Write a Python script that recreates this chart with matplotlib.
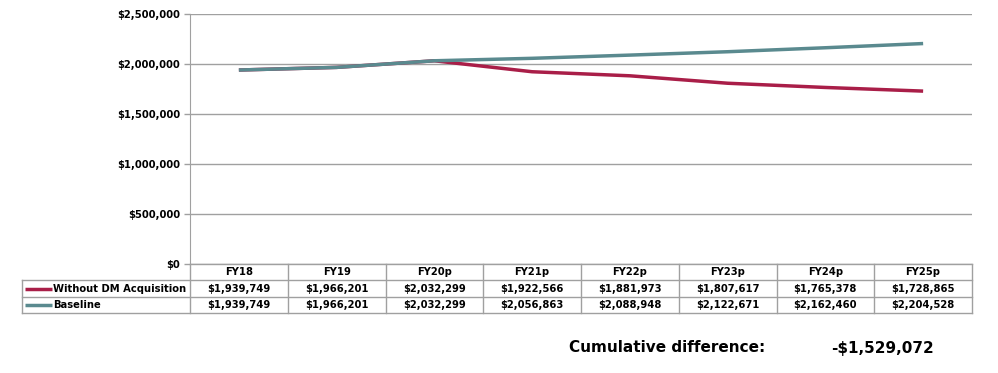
import matplotlib

matplotlib.use("Agg")
import matplotlib.pyplot as plt
from matplotlib.lines import Line2D
from matplotlib.ticker import FuncFormatter
from matplotlib.transforms import blended_transform_factory

years = ["FY18", "FY19", "FY20p", "FY21p", "FY22p", "FY23p", "FY24p", "FY25p"]
without_dm = [1939749, 1966201, 2032299, 1922566, 1881973, 1807617, 1765378, 1728865]
baseline = [1939749, 1966201, 2032299, 2056863, 2088948, 2122671, 2162460, 2204528]
series_names = ["Without DM Acquisition", "Baseline"]
cumulative_label = "Cumulative difference:"
cumulative_value = "-$1,529,072"

RED = "#A91E48"
TEAL = "#5A8A8F"
GRID = "#A0A0A0"
FS = 7.2

W, H = 998, 373
fig = plt.figure(figsize=(W / 100, H / 100), dpi=100)
ax = fig.add_axes([190 / W, (H - 264) / H, 782 / W, 250 / H])

x = list(range(len(years)))
ax.plot(x, without_dm, color=RED, lw=2.5, solid_capstyle="butt", zorder=3)
ax.plot(x, baseline, color=TEAL, lw=2.5, solid_capstyle="butt", zorder=4)

ax.set_xlim(-0.5, len(years) - 0.5)
ax.set_ylim(0, 2500000)
ax.set_yticks(range(0, 2500001, 500000))
ax.yaxis.set_major_formatter(FuncFormatter(lambda v, p: f"${v:,.0f}"))
ax.set_xticks([])
ax.grid(axis="y", color=GRID, lw=1)
ax.set_axisbelow(True)
for side in ("top", "right", "bottom"):
    ax.spines[side].set_visible(False)
ax.spines["left"].set_color(GRID)
ax.tick_params(axis="y", colors=GRID, length=4, width=1, labelcolor="black",
               labelsize=FS, pad=3)
for lab in ax.get_yticklabels():
    lab.set_fontweight("bold")

# data table under the axis
tr = blended_transform_factory(ax.transData, ax.transAxes)
col_w = 782 / len(years)
left = -0.5 - 168 / col_w
right = len(years) - 0.5
rows_y = [0, -16 / 250, -33 / 250, -49 / 250]
kw = dict(transform=tr, clip_on=False, color=GRID, lw=1)

for y in rows_y:
    x0 = -0.5 if y == 0 else left
    fig.add_artist(Line2D([x0, right], [y, y], **kw))
for i in range(len(years) + 1):
    fig.add_artist(Line2D([i - 0.5, i - 0.5], [rows_y[0], rows_y[-1]], **kw))
fig.add_artist(Line2D([left, left], [rows_y[1], rows_y[-1]], **kw))

tkw = dict(transform=tr, fontsize=FS, fontweight="bold", va="center", clip_on=False)
for i, yr in enumerate(years):
    ax.text(i, (rows_y[0] + rows_y[1]) / 2, yr, ha="center", **tkw)
    ax.text(i, (rows_y[1] + rows_y[2]) / 2, f"${without_dm[i]:,}", ha="center", **tkw)
    ax.text(i, (rows_y[2] + rows_y[3]) / 2, f"${baseline[i]:,}", ha="center", **tkw)

px = 1 / col_w
for r, (name, color) in enumerate(zip(series_names, [RED, TEAL])):
    yc = (rows_y[r + 1] + rows_y[r + 2]) / 2
    fig.add_artist(Line2D([left + 3 * px, left + 30 * px], [yc, yc], transform=tr,
                          clip_on=False, color=color, lw=2.5, solid_capstyle="butt"))
    ax.text(left + 31 * px, yc, name, ha="left", **tkw)

fig.text(569 / W, 1 - 348 / H, cumulative_label, fontsize=11, fontweight="bold",
         ha="left", va="center")
fig.text(934 / W, 1 - 348 / H, cumulative_value, fontsize=11, fontweight="bold",
         ha="right", va="center")

fig.savefig("out.png", dpi=100)
